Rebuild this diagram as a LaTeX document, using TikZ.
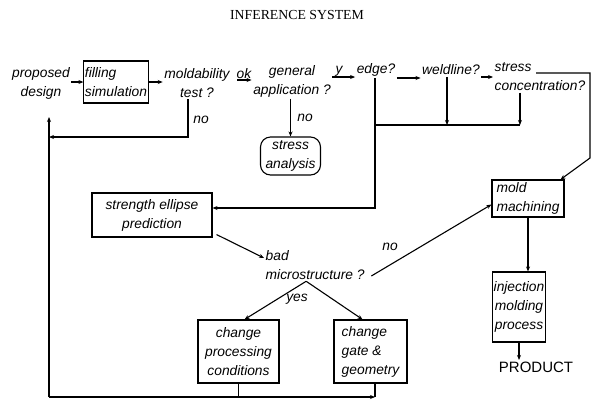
\documentclass[tikz,border=0pt]{standalone}
\usepackage{fontspec}
\setmainfont{Liberation Sans}
\newfontfamily\titlefont{Liberation Serif}
\usetikzlibrary{arrows.meta,calc}
\begin{document}
\begin{tikzpicture}[x=1pt,y=-1pt,
  every node/.style={font=\fontsize{13.8}{19}\selectfont\itshape, inner sep=1.5pt},
  wire/.style={line width=1.1pt},
  arr/.style={wire,-{Stealth[length=5pt,width=4pt]}},
  box/.style={draw, wire, align=center},
  lbl/.style={align=center},
]
\useasboundingbox (0,0) rectangle (596,405);

% heading
\node[font=\titlefont\fontsize{13.8}{16}\selectfont] (title) at (297,15) {INFERENCE SYSTEM};

% top row of the inference chain
\node[lbl] (prop) at (41,83) {proposed\\design};
\node[box, minimum width=64pt, minimum height=42pt, align=left, inner sep=1pt] (fill) at (116,82) {filling\\simulation};
\node[lbl] (mt) at (197,83) {moldability\\test ?};
\node[lbl] (gen) at (292,81) {general\\application ?};
\node (edge) at (376,70) {edge?};
\node (weld) at (451,70) {weldline?};
\node[align=left, anchor=west] (conc) at (493,77) {stress\\concentration?};

% analysis and prediction blocks
\node[draw, wire, rounded corners=10pt, minimum width=60pt, minimum height=38pt, align=center] (sa) at (290.5,156) {stress\\analysis};
\node[box, minimum width=120pt, minimum height=44pt] (sep) at (152,215) {strength ellipse\\prediction};
\node[align=left, anchor=west] (bm) at (264,265) {bad\\microstructure ?};
\node[box, minimum width=81pt, minimum height=63pt] (proc) at (238.5,351.5) {change\\processing\\conditions};
\node[box, minimum width=73pt, minimum height=63pt, align=left] (gate) at (370.5,351.5) {change\\gate \&\\geometry};

% manufacturing branch
\node[box, minimum width=72pt, minimum height=37pt, align=left] (mold) at (528,198.5) {mold\\machining};
\node[box, minimum width=52pt, minimum height=70pt, inner sep=1pt] (inj) at (519,307) {injection\\molding\\process};
\node[font=\fontsize{15}{17}\selectfont] (prod) at (536,367) {PRODUCT};

% branch labels
\node (ok) at (244,74) {ok};
\node (ylab) at (339,71) {y};
\node (no1) at (201,120) {no};
\node (no2) at (305,118) {no};
\node (no3) at (390,247) {no};
\node (yes) at (297,299) {yes};

% bend points of the feedback lines
\coordinate (loopTop) at (49,117);
\coordinate (loopBot) at (49,397);
\coordinate (mtNo) at (49,137);
\coordinate (bus) at (375,125);
\coordinate (sOut) at (536,73);
\coordinate (sR) at (590,73);
\coordinate (sD) at (590,158);

% connectors along the top row
\draw[arr] (prop.east |- fill.west) -- (fill.west);
\draw[arr] (fill.east) -- (fill.east -| mt.west);
\draw[arr] ([xshift=6pt,yshift=3pt]mt.east) -- ([yshift=3pt]mt.east -| gen.west);
\draw[arr] ([yshift=4pt]gen.east) -- ([yshift=4pt]gen.east -| edge.west);
\draw[arr] ([yshift=-8pt]edge.east) -- ([yshift=-8pt]edge.east -| weld.west);
\draw[arr] ([yshift=-7pt]weld.east) -- ([yshift=-7pt]weld.east -| conc.west);

% checks collected on a common bus
\draw[arr] ([xshift=-1pt]edge.south) |- ([yshift=7pt]sep.east);
\draw[arr] ([xshift=-4pt]weld.south) -- ([xshift=-4pt]weld.south |- bus);
\draw[arr] ([xshift=-20pt]conc.south) -- ([xshift=-20pt]conc.south |- bus);
\draw[wire] ([xshift=-1pt]edge.south |- bus) -- ([xshift=-20pt]conc.south |- bus);
\draw[arr] (sOut) -- (sR) -- (sD) -- ([xshift=-4pt]mold.north east);

% negative outcomes
\draw[arr] ([xshift=-9pt]mt.south) |- (mtNo);
\draw[arr] (gen.south -| sa.north) -- (sa.north);

% microstructure decision
\draw[arr] ([xshift=4pt,yshift=3pt]sep.south east) -- ([yshift=7pt]bm.west);
\draw[arr] ([xshift=5pt,yshift=-11pt]bm.east) -- ([yshift=-6pt]mold.west);
\draw[arr] ([xshift=-9pt]bm.south) -- ([xshift=6pt]proc.north);
\draw[arr] ([xshift=-9pt]bm.south) -- ([xshift=-8pt]gate.north);

% redesign loop back to the start
\draw[wire] (proc.south) -- (proc.south |- loopBot);
\draw[wire] ([xshift=4.5pt]gate.south) -- ([xshift=4.5pt]gate.south |- loopBot);
\draw[arr] (loopBot) -- ([xshift=4.5pt]gate.south |- loopBot);
\draw[arr] (loopBot) -- (loopTop);

% production
\draw[arr] (mold.south) -- (mold.south |- inj.north);
\draw[arr] (inj.south) -- (inj.south |- prod.north);
\end{tikzpicture}
\end{document}
